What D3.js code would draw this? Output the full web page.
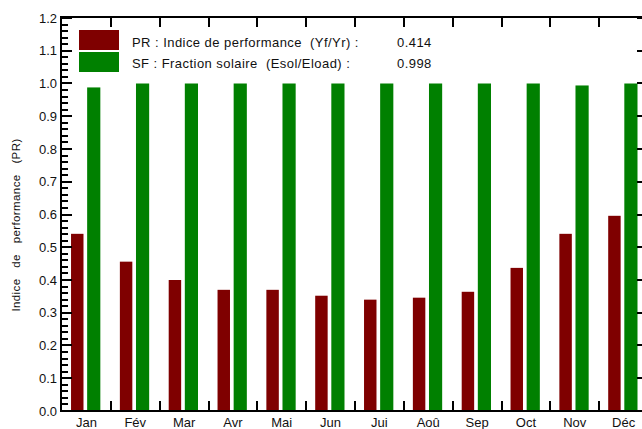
<!DOCTYPE html>
<html>
<head>
<meta charset="utf-8">
<script src="https://cdn.jsdelivr.net/npm/d3@7"></script>
<style>
  body { margin: 0; background: #fff; }
  text { font-family: "Liberation Sans", Arial, sans-serif; }
</style>
</head>
<body>
<div id="canvas"></div>
<script>
// Data
const months = ["Jan", "Fév", "Mar", "Avr", "Mai", "Jun", "Jui", "Aoû", "Sep", "Oct", "Nov", "Déc"];
const prValues = [0.541, 0.456, 0.400, 0.370, 0.370, 0.352, 0.340, 0.346, 0.364, 0.437, 0.541, 0.596];
const sfValues = [0.988, 1.0, 1.0, 1.0, 1.0, 1.0, 1.0, 1.0, 1.0, 1.0, 0.994, 1.0];
const yTicks = [0.0, 0.1, 0.2, 0.3, 0.4, 0.5, 0.6, 0.7, 0.8, 0.9, 1.0, 1.1, 1.2];
const legendLabels = ["PR : Indice de performance  (Yf/Yr) :", "SF : Fraction solaire  (Esol/Eload) :"];
const legendValues = ["0.414", "0.998"];

// Constants
const w = 642;
const h = 429;
const plotLeft = 62, plotRight = 648, plotTop = 17, plotBottom = 411;
const red = "#7f0000";
const green = "#008000";

const xScale = d3.scaleBand().domain(months).range([plotLeft, plotRight]).padding(0);
const yScale = d3.scaleLinear().domain([0, 1.2]).range([plotBottom, plotTop + 1]);

const svg = d3.select("#canvas").append("svg")
  .attr("width", w)
  .attr("height", h)
  .style("background-color", "white");

const bw = xScale.bandwidth();

// Bars
svg.append("g").selectAll("rect")
  .data(months)
  .join("rect")
  .attr("x", (d) => xScale(d) + 0.185 * bw)
  .attr("width", 0.255 * bw)
  .attr("y", (d, i) => yScale(prValues[i]))
  .attr("height", (d, i) => plotBottom - yScale(prValues[i]))
  .attr("fill", red);

svg.append("g").selectAll("rect")
  .data(months)
  .join("rect")
  .attr("x", (d) => xScale(d) + 0.515 * bw)
  .attr("width", 0.27 * bw)
  .attr("y", (d, i) => yScale(sfValues[i]))
  .attr("height", (d, i) => plotBottom - yScale(sfValues[i]))
  .attr("fill", green);

// Left axis: major ticks every 0.1, minor every 0.02 (pointing inward)
const minorTicks = d3.range(0, 61).map((i) => i * 0.02);
svg.append("g").selectAll("line")
  .data(minorTicks)
  .join("line")
  .attr("x1", plotLeft - 1)
  .attr("x2", (d, i) => (i % 5 === 0 ? plotLeft + 10 : plotLeft + 6))
  .attr("y1", (d) => Math.round(yScale(d)))
  .attr("y2", (d) => Math.round(yScale(d)))
  .attr("stroke", "black")
  .attr("stroke-width", 2);

svg.append("g").selectAll("text")
  .data(yTicks)
  .join("text")
  .attr("x", 57)
  .attr("y", (d) => yScale(d))
  .attr("dy", "0.35em")
  .attr("text-anchor", "end")
  .attr("font-size", "13px")
  .attr("fill", "#111")
  .text((d) => d3.format(".1f")(d));

// Right axis major ticks (pointing inward)
svg.append("g").selectAll("line")
  .data(yTicks)
  .join("line")
  .attr("x1", plotRight - 11)
  .attr("x2", plotRight)
  .attr("y1", (d) => Math.round(yScale(d)))
  .attr("y2", (d) => Math.round(yScale(d)))
  .attr("stroke", "black")
  .attr("stroke-width", 2);

// Month boundary ticks, top and bottom
const bounds = months.slice(1).map((m) => Math.round(xScale(m)));
svg.append("g").selectAll("line")
  .data(bounds)
  .join("line")
  .attr("x1", (d) => d).attr("x2", (d) => d)
  .attr("y1", plotBottom).attr("y2", plotBottom - 10)
  .attr("stroke", "black").attr("stroke-width", 2);
svg.append("g").selectAll("line")
  .data(bounds)
  .join("line")
  .attr("x1", (d) => d).attr("x2", (d) => d)
  .attr("y1", plotTop).attr("y2", plotTop + 10)
  .attr("stroke", "black").attr("stroke-width", 2);

// Frame
svg.append("rect")
  .attr("x", plotLeft - 1)
  .attr("y", plotTop)
  .attr("width", plotRight - plotLeft + 1)
  .attr("height", plotBottom - plotTop)
  .attr("fill", "none")
  .attr("stroke", "black")
  .attr("stroke-width", 2);

// Month labels
svg.append("g").selectAll("text")
  .data(months)
  .join("text")
  .attr("x", (d) => xScale(d) + bw / 2)
  .attr("y", 427)
  .attr("text-anchor", "middle")
  .attr("font-size", "13px")
  .attr("fill", "#111")
  .text((d) => d);

// Y axis title
svg.append("text")
  .attr("transform", "translate(20,225) rotate(-90)")
  .attr("text-anchor", "middle")
  .attr("font-size", "11.5px")
  .attr("fill", "#111")
  .style("white-space", "pre")
  .style("letter-spacing", "0.4px")
  .text("Indice   de   performance   (PR)");

// Legend
const legend = svg.append("g");
[red, green].forEach((c, i) => {
  legend.append("rect")
    .attr("x", 79)
    .attr("y", 30 + i * 22)
    .attr("width", 40)
    .attr("height", 20)
    .attr("fill", c);
  legend.append("text")
    .attr("x", 132)
    .attr("y", 42 + i * 21)
    .attr("dy", "0.35em")
    .attr("font-size", "13px")
    .attr("fill", "#111")
    .style("white-space", "pre")
    .style("letter-spacing", "0.45px")
    .text(legendLabels[i]);
  legend.append("text")
    .attr("x", 397)
    .attr("y", 42 + i * 21)
    .attr("dy", "0.35em")
    .attr("font-size", "13px")
    .attr("fill", "#111")
    .style("letter-spacing", "0.45px")
    .text(legendValues[i]);
});
</script>
</body>
</html>
